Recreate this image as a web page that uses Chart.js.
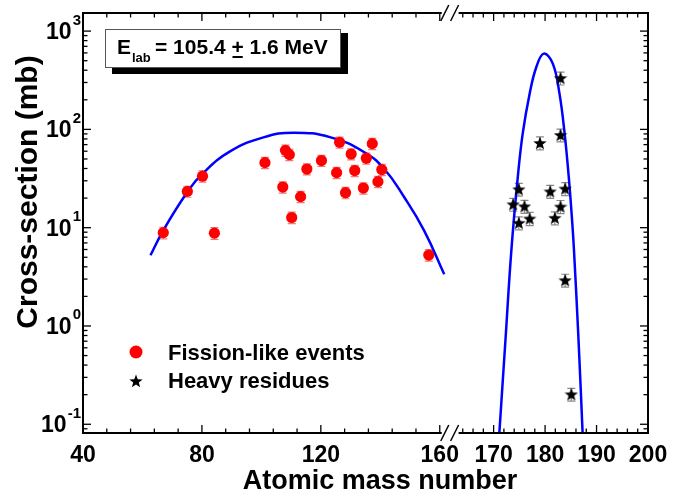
<!DOCTYPE html>
<html lang="en">
<head>
    <meta charset="UTF-8">
    <title>Cross-section vs atomic mass number</title>
    <script src="https://cdn.jsdelivr.net/npm/chart.js@4.4.1/dist/chart.umd.min.js"></script>
    <style>
        body, html {
            margin: 0;
            padding: 0;
            background: #fff;
        }
        canvas {
            display: block;
        }
    </style>
</head>
<body>
    <canvas id="myChart" width="696" height="496"></canvas>

    <script>
        // Fission-like events (left part of the broken mass axis)
        const fissionMass = [67.0, 75.1, 80.2, 84.2, 101.2, 107.2, 108.1, 109.4, 110.2, 113.2, 115.3, 120.2,
                             125.3, 126.3, 128.3, 130.2, 131.4, 134.3, 135.3, 137.3, 139.2, 140.5, 156.3];
        const fissionSigma = [8.9, 23.4, 33.4, 8.8, 45.9, 25.9, 61.2, 55.4, 12.7, 20.7, 39.5, 48.2,
                              36.3, 73.9, 22.7, 56.2, 38.1, 25.3, 50.8, 71.6, 29.4, 39.0, 5.27];
        const fissionErr = [1.2, 3.0, 4.4, 1.2, 6.0, 3.4, 8.0, 7.2, 1.7, 2.7, 5.1, 6.3,
                            4.7, 9.6, 3.0, 7.3, 5.0, 3.3, 6.6, 9.3, 3.8, 5.1, 0.7];

        // Heavy residues (right part)
        const residueMass = [183.0, 183.0, 179.0, 174.9, 173.8, 176.0, 174.9, 177.0, 181.0, 183.9, 183.0, 181.9, 183.9, 185.1];
        const residueSigma = [333, 87.7, 72.8, 24.6, 17.3, 16.5, 11.2, 12.4, 23.4, 25.0, 16.4, 12.6, 2.92, 0.202];
        const residueErr = [50, 13, 11, 3.7, 2.6, 2.5, 1.7, 1.9, 3.5, 3.8, 2.5, 1.9, 0.44, 0.03];

        // Gaussian fit curves
        const fitFissionMass = [62.7, 67.0, 75.1, 80.2, 89.6, 100.7, 110.9, 123.3, 134.5, 141.2, 148.0, 154.7, 161.5];
        const fitFissionSigma = [5.24, 9.4, 23.1, 35.5, 60.0, 83.0, 92.7, 83.0, 58.9, 40.0, 20.5, 9.4, 3.36];
        const fitResidueMass = [171.1, 172.3, 173.45, 174.7, 175.65, 177.0, 178.3, 179.75, 181.5, 182.8,
                                183.8, 184.6, 185.2, 185.6, 186.5, 187.3];
        const fitResidueSigma = [0.08, 0.72, 5.9, 32.8, 90.6, 231, 431, 590, 467, 231,
                                 90.6, 32.8, 12.9, 6.1, 0.72, 0.08];

        // Axis ticks and texts
        const xTicksLeft = [40, 80, 120, 160];
        const xTicksRight = [170, 180, 190, 200];
        const yTicks = [0.1, 1, 10, 100, 1000];
        const legendLabels = ['Fission-like events', 'Heavy residues'];
        const xTitle = 'Atomic mass number';
        const yTitle = 'Cross-section (mb)';

        const FONT = '"Liberation Sans", Arial, Helvetica, sans-serif';

        // Filled five-point star used as point style
        function makeStar(size, color) {
            const c = document.createElement('canvas');
            c.width = size;
            c.height = size;
            const g = c.getContext('2d');
            const R = size / 2, r = R * 0.42, cx = size / 2, cy = size / 2 + size * 0.04;
            g.beginPath();
            for (let i = 0; i < 10; i++) {
                const ang = -Math.PI / 2 + i * Math.PI / 5;
                const rad = i % 2 ? r : R;
                g.lineTo(cx + rad * Math.cos(ang), cy + rad * Math.sin(ang));
            }
            g.closePath();
            g.fillStyle = color;
            g.fill();
            return c;
        }
        const star = makeStar(14, '#000');

        function txt(ctx, str, x, y, size, align) {
            ctx.font = 'bold ' + size + 'px ' + FONT;
            ctx.textAlign = align || 'left';
            ctx.textBaseline = 'alphabetic';
            ctx.fillText(str, x, y);
            return ctx.measureText(str).width;
        }

        // Vertical error bars, drawn under the markers
        const errorBars = {
            id: 'errorBars',
            beforeDatasetsDraw(chart) {
                const {ctx, scales} = chart;
                const groups = [
                    {x: scales.x1, mass: fissionMass, val: fissionSigma, err: fissionErr, color: '#f07878'},
                    {x: scales.x2, mass: residueMass, val: residueSigma, err: residueErr, color: '#8a8a8a'}
                ];
                ctx.save();
                ctx.lineWidth = 1.2;
                groups.forEach(gr => {
                    ctx.strokeStyle = gr.color;
                    gr.mass.forEach((m, i) => {
                        const px = gr.x.getPixelForValue(m);
                        const top = scales.y.getPixelForValue(gr.val[i] + gr.err[i]);
                        const bot = scales.y.getPixelForValue(gr.val[i] - gr.err[i]);
                        ctx.beginPath();
                        ctx.moveTo(px, top); ctx.lineTo(px, bot);
                        ctx.moveTo(px - 4, top); ctx.lineTo(px + 4, top);
                        ctx.moveTo(px - 4, bot); ctx.lineTo(px + 4, bot);
                        ctx.stroke();
                    });
                });
                ctx.restore();
            }
        };

        // Box frame, inward ticks, axis break, labels, legend and energy box
        const frame = {
            id: 'frame',
            afterDraw(chart) {
                const {ctx, chartArea: a, scales} = chart;
                const x1 = scales.x1, x2 = scales.x2, y = scales.y;
                const line = (xa, ya, xb, yb) => {
                    ctx.beginPath(); ctx.moveTo(xa, ya); ctx.lineTo(xb, yb); ctx.stroke();
                };
                ctx.save();
                ctx.strokeStyle = '#000';
                ctx.fillStyle = '#000';
                ctx.lineWidth = 2;
                ctx.strokeRect(a.left, a.top, a.right - a.left, a.bottom - a.top);

                // x ticks (top and bottom, pointing inward)
                ctx.lineWidth = 1.3;
                for (let v = x1.min; v <= 160; v += 8) {
                    const px = x1.getPixelForValue(v);
                    const len = xTicksLeft.includes(v) ? 8 : 4.5;
                    line(px, a.bottom, px, a.bottom - len);
                    line(px, a.top, px, a.top + len);
                }
                for (let v = 164; v <= x2.max; v += 2) {
                    const px = x2.getPixelForValue(v);
                    const len = xTicksRight.includes(v) ? 8 : 4.5;
                    line(px, a.bottom, px, a.bottom - len);
                    line(px, a.top, px, a.top + len);
                }
                // log y ticks (left and right)
                for (let e = -2; e <= 3; e++) {
                    for (let m = 1; m <= 9; m++) {
                        const v = m * Math.pow(10, e);
                        if (v < y.min || v > y.max) continue;
                        const py = y.getPixelForValue(v);
                        const len = m === 1 ? 8 : 4.5;
                        line(a.left, py, a.left + len, py);
                        line(a.right, py, a.right - len, py);
                    }
                }

                // axis break
                const gl = x1.getPixelForValue(160) + 2, gr = x2.left + 1;
                ctx.fillStyle = '#fff';
                ctx.fillRect(gl, a.top - 3, gr - gl, 6);
                ctx.fillRect(gl, a.bottom - 3, gr - gl, 6);
                ctx.fillStyle = '#000';
                ctx.lineWidth = 1.5;
                [a.top, a.bottom].forEach(yy => {
                    line(gl - 1, yy + 8, gl + 7, yy - 8);
                    line(gr - 8, yy + 8, gr, yy - 8);
                });

                // tick labels
                xTicksLeft.forEach(v => txt(ctx, String(v), x1.getPixelForValue(v), 461.5, 23, 'center'));
                xTicksRight.forEach(v => txt(ctx, String(v), x2.getPixelForValue(v), 461.5, 23, 'center'));
                yTicks.forEach(v => {
                    const py = y.getPixelForValue(v);
                    const sw = txt(ctx, String(Math.round(Math.log10(v))), 81, py - 6.5, 15, 'right');
                    txt(ctx, '10', 81 - sw - 1, py + 8, 23, 'right');
                });

                // axis titles
                txt(ctx, xTitle, 380, 489, 27, 'center');
                ctx.save();
                ctx.translate(37, 192);
                ctx.rotate(-Math.PI / 2);
                txt(ctx, yTitle, 0, 0, 30, 'center');
                ctx.restore();

                // legend
                ctx.fillStyle = '#ff0000';
                ctx.beginPath();
                ctx.arc(136, 352, 6.5, 0, Math.PI * 2);
                ctx.fill();
                ctx.drawImage(star, 136 - 7, 381 - 7);
                ctx.fillStyle = '#000';
                txt(ctx, legendLabels[0], 168, 360, 22, 'left');
                txt(ctx, legendLabels[1], 168, 388, 22, 'left');

                // energy box with drop shadow
                ctx.fillStyle = '#000';
                ctx.fillRect(112, 33, 236, 41);
                ctx.fillStyle = '#fff';
                ctx.fillRect(105, 29, 236, 39);
                ctx.strokeStyle = '#555';
                ctx.lineWidth = 1;
                ctx.strokeRect(105.5, 29.5, 235, 38);
                ctx.fillStyle = '#000';
                let cx = 117;
                cx += txt(ctx, 'E', cx, 54, 21, 'left');
                txt(ctx, 'lab', cx + 1, 62, 13, 'left');
                cx = 155;
                cx += txt(ctx, '= 105.4 ', cx, 54, 21, 'left');
                const pw = txt(ctx, '+', cx, 54, 21, 'left');
                ctx.fillRect(cx + 1, 56, pw - 2, 2);
                cx += pw;
                txt(ctx, ' 1.6 MeV', cx, 54, 21, 'left');
                ctx.restore();
            }
        };

        const ctx = document.getElementById('myChart').getContext('2d');
        const toPoints = (xs, ys) => xs.map((x, i) => ({x: x, y: ys[i]}));

        new Chart(ctx, {
            type: 'scatter',
            data: {
                datasets: [{
                    label: legendLabels[0],
                    data: toPoints(fissionMass, fissionSigma),
                    xAxisID: 'x1',
                    yAxisID: 'y',
                    pointStyle: 'circle',
                    pointRadius: 5.6,
                    backgroundColor: '#ff0000',
                    borderWidth: 0,
                    order: 1
                }, {
                    label: 'Fission fit',
                    data: toPoints(fitFissionMass, fitFissionSigma),
                    xAxisID: 'x1',
                    yAxisID: 'y',
                    showLine: true,
                    borderColor: '#0000ff',
                    borderWidth: 2.5,
                    pointRadius: 0,
                    tension: 0.45,
                    order: 2
                }, {
                    label: legendLabels[1],
                    data: toPoints(residueMass, residueSigma),
                    xAxisID: 'x2',
                    yAxisID: 'y',
                    pointStyle: star,
                    pointRadius: 7,
                    order: 1
                }, {
                    label: 'Residue fit',
                    data: toPoints(fitResidueMass, fitResidueSigma),
                    xAxisID: 'x2',
                    yAxisID: 'y',
                    showLine: true,
                    borderColor: '#0000ff',
                    borderWidth: 2.5,
                    pointRadius: 0,
                    tension: 0.4,
                    order: 2
                }]
            },
            options: {
                responsive: false,
                animation: false,
                layout: {
                    padding: {left: 83, right: 48, top: 13, bottom: 63}
                },
                plugins: {
                    legend: {display: false},
                    tooltip: {enabled: false}
                },
                scales: {
                    x1: {type: 'linear', position: 'bottom', stack: 'mass', stackWeight: 374.6, min: 40, max: 166, display: false},
                    x2: {type: 'linear', position: 'bottom', stack: 'mass', stackWeight: 190.4, min: 163, max: 200, display: false},
                    y: {type: 'logarithmic', min: 0.0815, max: 1528, display: false}
                }
            },
            plugins: [errorBars, frame]
        });
    </script>
</body>
</html>
